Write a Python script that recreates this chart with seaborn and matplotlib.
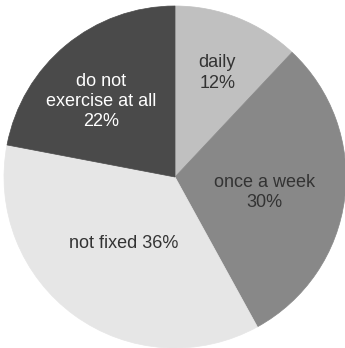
import numpy as np
import matplotlib
matplotlib.use("Agg")
import matplotlib.pyplot as plt
import seaborn as sns

# Survey: how often respondents exercise
categories = ["daily", "once a week", "not fixed", "do not\nexercise at all"]
shares = [12, 30, 36, 22]

sns.set_theme(style="white")
plt.rcParams["font.family"] = ["Liberation Sans", "DejaVu Sans"]

colors = ["#c0c0c0", "#888888", "#e6e6e6", "#4a4a4a"]
text_colors = ["#333333", "#333333", "#333333", "#ffffff"]
label_radius = [0.67, 0.53, 0.48, 0.63]
label_shift = [0.0, -1.0, -3.0, 4.0]  # degrees, fine-tunes each label's angle

fig = plt.figure(figsize=(3.45, 3.48), dpi=100)
ax = fig.add_axes([4 / 345, 0 / 348, 342 / 345, 342 / 348])

wedges, _ = ax.pie(
    shares,
    colors=colors,
    startangle=90,
    counterclock=False,
    radius=1.0,
    wedgeprops=dict(linewidth=0.5, antialiased=True),
)
for w, c in zip(wedges, colors):
    w.set_edgecolor(c)

for w, cat, val, tc, r, d in zip(wedges, categories, shares, text_colors,
                                 label_radius, label_shift):
    ang = np.deg2rad((w.theta1 + w.theta2) / 2 + d)
    sep = " " if cat == "not fixed" else "\n"
    ax.text(r * np.cos(ang), r * np.sin(ang) - 0.015, f"{cat}{sep}{val}%",
            ha="center", va="center", color=tc, fontsize=13,
            linespacing=1.25)

ax.set_xlim(-1, 1)
ax.set_ylim(-1, 1)
ax.set_aspect("equal")
ax.axis("off")
fig.savefig("out.png", dpi=100)
